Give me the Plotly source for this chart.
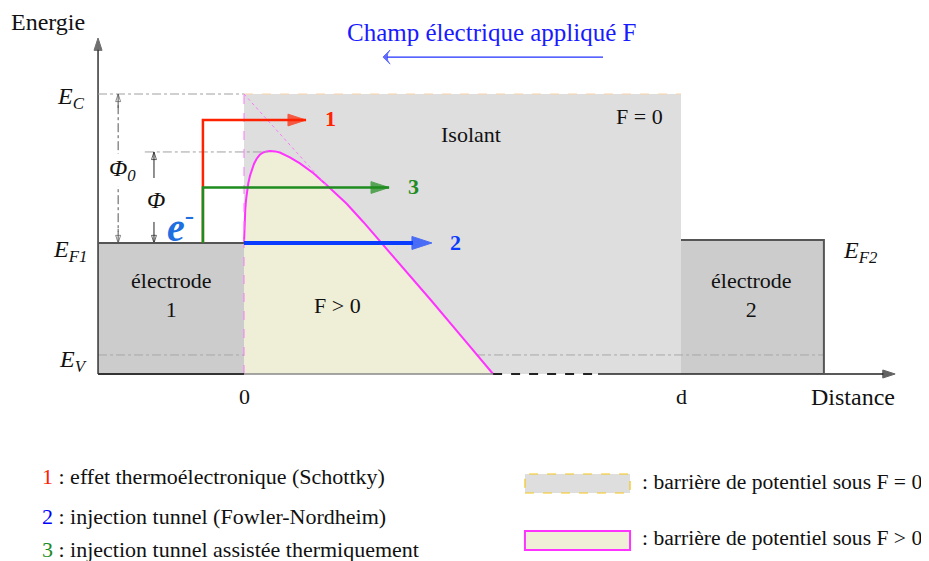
import plotly.graph_objects as go

# distance axis: 0 = electrode 1 / insulator interface, 1 = d
x_left = -0.334          # energy axis position (left edge of electrode 1)
x_electrode2_end = 1.327
x_axis_end = 1.49
x_barrier_end = 0.57     # where the F > 0 barrier meets the bottom axis
x_dashed_end = 0.81

# energy levels (arbitrary units, bottom axis = 0)
E_V = 0.68
E_F1 = 4.68
E_F2 = 4.79
E_C = 10.0
E_top = 12.0
Phi_level = 7.93

# barrier under F > 0 (image-force lowered)
barrier_x = [0.0, 0.0008, 0.0016, 0.003, 0.0046, 0.007, 0.0098, 0.0135, 0.0176,
             0.023, 0.029, 0.036, 0.044, 0.052, 0.06, 0.071, 0.082, 0.105,
             0.128, 0.159, 0.189, 0.235, 0.273, 0.315, 0.365, 0.426, 0.502, 0.57]
barrier_E = [4.67, 5.15, 5.5, 5.9, 6.21, 6.52, 6.81, 7.07, 7.29,
             7.51, 7.69, 7.83, 7.91, 7.95, 7.96, 7.95, 7.91, 7.74,
             7.52, 7.17, 6.75, 6.08, 5.43, 4.68, 3.79, 2.67, 1.26, 0.0]

# triangular barrier without image force
tangent_x = [0.0, 0.19]
tangent_E = [10.0, 6.71]

# injection paths 1, 2, 3
path_x0 = -0.094
path1_E, path1_end = 9.07, 0.142
path3_E, path3_end = 6.66, 0.332
path2_end = 0.43

# applied field arrow
field_x = [0.8215, 0.318]
field_E = [11.32, 11.32]

# barrier height arrows
x_phi0 = -0.288
x_phi = -0.206

SERIF = "Times New Roman, Liberation Serif, serif"
GREY_ZONE = "#DEDEDE"
ELECTRODE = "#CCCCCC"
YELLOW = "#EFEFD7"
MAGENTA = "#FF33FF"
RED = "#FF2200"
GREEN = "#1E8C1E"
BLUE = "#0A3CFF"

fig = go.Figure()


def add_line(x, y, color, width, dash="solid", head=None, head_size=12):
    # polyline, optionally with an arrow marker on its last point
    sizes = [0] * len(x)
    if head:
        sizes[-1] = head_size
    fig.add_trace(go.Scatter(
        x=x, y=y, mode="lines+markers" if head else "lines",
        line=dict(color=color, width=width, dash=dash),
        marker=dict(symbol=head or "circle", size=sizes, color=color,
                    angleref="previous", line=dict(width=1, color=color)),
        hoverinfo="skip",
    ))


# yellow area under the F > 0 barrier
fig.add_trace(go.Scatter(x=barrier_x, y=barrier_E, fill="tozeroy", fillcolor=YELLOW,
                         mode="lines", line=dict(width=0), hoverinfo="skip"))
add_line(barrier_x, barrier_E, MAGENTA, 2)
add_line(tangent_x, tangent_E, "#FF77FF", 1, "dot")
add_line([0, 0], [0, E_C], "#FF77FF", 1, "dash")

# bottom axis pieces
add_line([0, x_barrier_end], [0, 0], "#888888", 1.5)
add_line([x_barrier_end, x_dashed_end], [0, 0], "#222222", 2, "dash")
add_line([x_left, 0], [0, 0], "#333333", 2)
add_line([x_dashed_end, x_axis_end], [0, 0], "#222222", 1.5, head="arrow", head_size=13)
# energy axis
add_line([x_left, x_left], [0, E_top], "#333333", 1.5, head="arrow", head_size=13)

# reference dash-dot lines
add_line([x_left, 0], [E_C, E_C], "#A0A0A0", 1, "dashdot")
add_line([-0.227, 0.055], [Phi_level, Phi_level], "#A0A0A0", 1, "dashdot")
add_line([x_phi0, x_phi0], [E_C - 0.4, E_F1 + 0.4], "#555555", 1, "dashdot")
add_line([x_phi0, x_phi0], [E_F1 + 0.5, E_F1], "#555555", 1, head="arrow-open", head_size=8)
add_line([x_phi0, x_phi0], [E_C - 0.5, E_C], "#555555", 1, head="arrow-open", head_size=8)
add_line([x_phi, x_phi], [7.0, Phi_level], "#222222", 1, head="arrow-open", head_size=8)
add_line([x_phi, x_phi], [5.43, E_F1], "#222222", 1, head="arrow-open", head_size=8)

# electrode borders
add_line([x_left, 0], [E_F1, E_F1], "#555555", 2)
add_line([1, x_electrode2_end, x_electrode2_end], [E_F2, E_F2, 0], "#555555", 2)

# injection paths (1 and 3 climb from E_F1 first)
add_line([path_x0, path_x0, path1_end], [E_F1, path1_E, path1_E], RED, 2.5, head="arrow", head_size=19)
add_line([path_x0, path_x0, path3_end], [E_F1, path3_E, path3_E], GREEN, 2.5, head="arrow", head_size=19)
add_line([0, path2_end], [E_F1, E_F1], BLUE, 4, head="arrow", head_size=21)

# applied field
add_line(field_x, field_E, "#2030FF", 1.2, head="arrow-wide", head_size=10)

shapes = [
    # insulator (F = 0 barrier)
    dict(type="rect", x0=0, x1=1, y0=0, y1=E_C, fillcolor=GREY_ZONE,
         line=dict(width=0), layer="below"),
    dict(type="line", x0=0, x1=1, y0=E_C, y1=E_C, layer="below",
         line=dict(color="#F8D3A8", width=1, dash="dash")),
    # electrodes
    dict(type="rect", x0=x_left, x1=0, y0=0, y1=E_F1, fillcolor=ELECTRODE,
         line=dict(width=0), layer="below"),
    dict(type="rect", x0=1, x1=x_electrode2_end, y0=0, y1=E_F2, fillcolor=ELECTRODE,
         line=dict(width=0), layer="below"),
    # valence band edge
    dict(type="line", x0=x_left, x1=x_electrode2_end, y0=E_V, y1=E_V, layer="below",
         line=dict(color="#A8A8A8", width=1, dash="dashdot")),
    # legend swatches
    dict(type="rect", xref="paper", yref="paper", x0=0.5613, x1=0.6754, y0=0.1230, y1=0.1573,
         fillcolor=GREY_ZONE, line=dict(color="#F5C518", width=1.2, dash="dash")),
    dict(type="rect", xref="paper", yref="paper", x0=0.5613, x1=0.6754, y0=0.0199, y1=0.0542,
         fillcolor=YELLOW, line=dict(color=MAGENTA, width=2)),
]


def label(x, y, text, size=22, color="#111111", xanchor="center", **kw):
    return dict(x=x, y=y, text=text, showarrow=False, xanchor=xanchor, yanchor="middle",
                font=dict(family=SERIF, size=size, color=color), **kw)


annotations = [
    label(-0.4485, 12.57, "Energie", 24),
    label(1.394, -0.82, "Distance", 24),
    label(0, -0.82, "0", 22),
    label(1, -0.82, "d", 22),
    label(0.5675, 12.21, "Champ électrique appliqué F", 25, "#1A1AFF"),
    label(-0.36, 9.85, "<i>E</i><sub><i>C</i></sub>", 24, xanchor="right"),
    label(-0.355, 4.4, "<i>E</i><sub><i>F1</i></sub>", 24, xanchor="right"),
    label(-0.355, 0.45, "<i>E</i><sub><i>V</i></sub>", 24, xanchor="right"),
    label(1.41, 4.35, "<i>E</i><sub><i>F2</i></sub>", 24),
    label(-0.279, 7.29, "<i>Φ</i><sub><i>0</i></sub>", 24, bgcolor="white"),
    label(-0.201, 6.21, "<i>Φ</i>", 24),
    label(-0.146, 5.35, "<b><i>e</i></b><sup>-</sup>", 40, "#1F6FE0"),
    label(0.519, 8.54, "Isolant", 22),
    label(0.906, 9.21, "F = 0", 22),
    label(0.213, 2.46, "F &gt; 0", 22),
    label(-0.167, 2.82, "électrode<br>1", 22),
    label(1.162, 2.82, "électrode<br>2", 22),
    label(0.197, 9.14, "<b>1</b>", 22, RED),
    label(0.387, 6.68, "<b>3</b>", 22, GREEN),
    label(0.483, 4.68, "<b>2</b>", 22, BLUE),
]

legend_items = [
    ("1", RED, "effet thermoélectronique (Schottky)", 0.1519),
    ("2", "#0000FF", "injection tunnel (Fowler-Nordheim)", 0.0796),
    ("3", GREEN, "injection tunnel assistée thermiquement", 0.0199),
]
for num, col, txt, ypos in legend_items:
    annotations.append(dict(xref="paper", yref="paper", x=0.0347, y=ypos, showarrow=False,
                            xanchor="left", yanchor="middle",
                            text=f"<span style='color:{col}'>{num}</span> : {txt}",
                            font=dict(family=SERIF, size=22, color="#111111")))
for txt, ypos in [(": barrière de potentiel sous F = 0", 0.1429),
                  (": barrière de potentiel sous F &gt; 0", 0.0416)]:
    annotations.append(dict(xref="paper", yref="paper", x=0.6862, y=ypos, showarrow=False,
                            xanchor="left", yanchor="middle", text=txt,
                            font=dict(family=SERIF, size=21.6, color="#111111")))

# the page adds an 8px body margin, so the figure is 8px smaller than the window
fig.update_layout(
    width=921,
    height=553,
    autosize=False,
    margin=dict(l=0, r=0, t=0, b=0),
    paper_bgcolor="white",
    plot_bgcolor="white",
    showlegend=False,
    hovermode=False,
    shapes=shapes,
    annotations=annotations,
    xaxis=dict(range=[-0.54005, 1.56751], visible=False, fixedrange=True),
    yaxis=dict(range=[-6.6786, 13.0714], visible=False, fixedrange=True),
)

fig.write_html("out.html")
